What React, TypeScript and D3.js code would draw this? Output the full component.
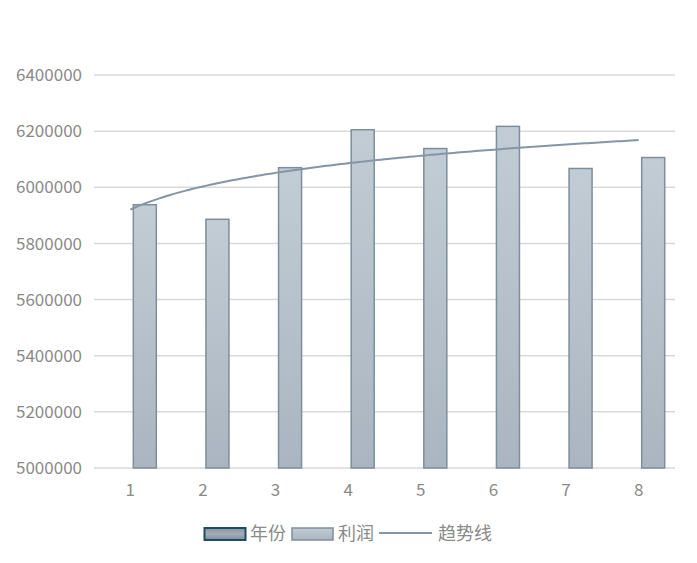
import * as d3 from 'd3';
import { useLayoutEffect, useRef } from 'react';

const categories = ['1', '2', '3', '4', '5', '6', '7', '8'];
const seriesNames = ['年份', '利润'];
const years = [1, 2, 3, 4, 5, 6, 7, 8];
const profit = [5938000, 5886000, 6070000, 6205000, 6138000, 6217000, 6067000, 6106000];
const trendName = '趋势线';

const W = 697;
const H = 563;

const App = () => {
  const ref = useRef<SVGSVGElement>(null);

  useLayoutEffect(() => {
    const margin = { top: 75, right: 22, bottom: 95, left: 94 };
    const font = '"Noto Sans CJK SC", "Noto Sans", sans-serif';
    const textColor = '#8a8a8a';

    const svg = d3.select(ref.current);
    svg.selectAll('*').remove();

    const defs = svg.append('defs');
    const barGrad = defs
      .append('linearGradient')
      .attr('id', 'barGrad')
      .attr('x1', 0)
      .attr('y1', 0)
      .attr('x2', 0)
      .attr('y2', 1);
    barGrad.append('stop').attr('offset', '0%').attr('stop-color', '#c2ccd4');
    barGrad.append('stop').attr('offset', '100%').attr('stop-color', '#aab5c1');

    const yearGrad = defs
      .append('linearGradient')
      .attr('id', 'yearGrad')
      .attr('x1', 0)
      .attr('y1', 0)
      .attr('x2', 0)
      .attr('y2', 1);
    yearGrad.append('stop').attr('offset', '0%').attr('stop-color', '#8593a1');
    yearGrad.append('stop').attr('offset', '50%').attr('stop-color', '#a3aeba');
    yearGrad.append('stop').attr('offset', '100%').attr('stop-color', '#7f8c9a');

    const x0 = d3
      .scaleBand()
      .domain(categories)
      .range([margin.left, W - margin.right])
      .padding(0);

    const x1 = d3
      .scaleBand()
      .domain(seriesNames)
      .range([0, x0.bandwidth()])
      .paddingInner(0.207)
      .paddingOuter(0.355);

    const y = d3
      .scaleLinear()
      .domain([5000000, 6400000])
      .range([H - margin.bottom, margin.top]);

    // gridlines + y labels
    const yTicks = d3.range(5000000, 6400001, 200000);
    svg
      .append('g')
      .selectAll('line')
      .data(yTicks)
      .join('line')
      .attr('x1', margin.left)
      .attr('x2', W - margin.right)
      .attr('y1', (d) => y(d))
      .attr('y2', (d) => y(d))
      .attr('stroke', '#d9d9d9')
      .attr('stroke-width', 1.5);

    svg
      .append('g')
      .selectAll('text')
      .data(yTicks)
      .join('text')
      .attr('x', margin.left - 12)
      .attr('y', (d) => y(d))
      .attr('dy', '0.36em')
      .attr('text-anchor', 'end')
      .attr('font-family', font)
      .attr('font-size', 17)
      .attr('fill', textColor)
      .text((d) => d3.format('d')(d));

    // x labels
    svg
      .append('g')
      .selectAll('text')
      .data(categories)
      .join('text')
      .attr('x', (d) => (x0(d) ?? 0) + x0.bandwidth() / 2)
      .attr('y', y(5000000) + 22)
      .attr('dy', '0.36em')
      .attr('text-anchor', 'middle')
      .attr('font-family', font)
      .attr('font-size', 17)
      .attr('fill', textColor)
      .text((d) => d);

    // bars (年份 values are far below the axis minimum, so only 利润 shows)
    const rows = categories.map((c, i) => ({ c, 年份: years[i], 利润: profit[i] }));
    const y0 = y.domain()[0];
    svg
      .append('g')
      .selectAll('g')
      .data(rows)
      .join('g')
      .attr('transform', (d) => `translate(${x0(d.c)},0)`)
      .selectAll('rect')
      .data((d) => seriesNames.map((s) => ({ s, v: d[s] as number })).filter((e) => e.v > y0))
      .join('rect')
      .attr('x', (d) => x1(d.s) ?? 0)
      .attr('width', x1.bandwidth())
      .attr('y', (d) => y(d.v))
      .attr('height', (d) => y(y0) - y(d.v))
      .attr('fill', 'url(#barGrad)')
      .attr('stroke', '#7d8e9c')
      .attr('stroke-width', 1.5);

    // logarithmic trend line fitted to profit
    const lx = years.map((t) => Math.log(t));
    const mx = d3.mean(lx) as number;
    const my = d3.mean(profit) as number;
    const b =
      d3.sum(lx, (v, i) => (v - mx) * (profit[i] - my)) / d3.sum(lx, (v) => (v - mx) * (v - mx));
    const a = my - b * mx;
    const step = x0.step();
    const firstCenter = (x0(categories[0]) ?? 0) + x0.bandwidth() / 2;
    const tt = d3.range(1, 8.0001, 0.05);
    const line = d3
      .line<number>()
      .x((t) => firstCenter + (t - 1) * step)
      .y((t) => y(a + b * Math.log(t)));
    svg
      .append('path')
      .datum(tt)
      .attr('fill', 'none')
      .attr('stroke', '#8496a6')
      .attr('stroke-width', 2)
      .attr('d', line);

    // legend
    const lg = svg.append('g').attr('font-family', font).attr('font-size', 18).attr('fill', textColor);
    const ly = 534;
    lg.append('rect')
      .attr('x', 204.5)
      .attr('y', ly - 6)
      .attr('width', 41)
      .attr('height', 12)
      .attr('fill', 'url(#yearGrad)')
      .attr('stroke', '#1f4d60')
      .attr('stroke-width', 2);
    lg.append('text').attr('x', 250).attr('y', ly).attr('dy', '0.36em').text(seriesNames[0]);
    lg.append('rect')
      .attr('x', 292)
      .attr('y', ly - 6)
      .attr('width', 41)
      .attr('height', 12)
      .attr('fill', 'url(#barGrad)')
      .attr('stroke', '#7d8e9c')
      .attr('stroke-width', 1.5);
    lg.append('text').attr('x', 338).attr('y', ly).attr('dy', '0.36em').text(seriesNames[1]);
    lg.append('line')
      .attr('x1', 379)
      .attr('x2', 432)
      .attr('y1', ly - 1)
      .attr('y2', ly - 1)
      .attr('stroke', '#8496a6')
      .attr('stroke-width', 2);
    lg.append('text').attr('x', 438).attr('y', ly).attr('dy', '0.36em').text(trendName);
  }, []);

  return (
    <svg
      ref={ref}
      width={W}
      height={H}
      viewBox={`0 0 ${W} ${H}`}
      style={{ position: 'absolute', left: 0, top: 0, background: '#fff' }}
    />
  );
};

export default App;
